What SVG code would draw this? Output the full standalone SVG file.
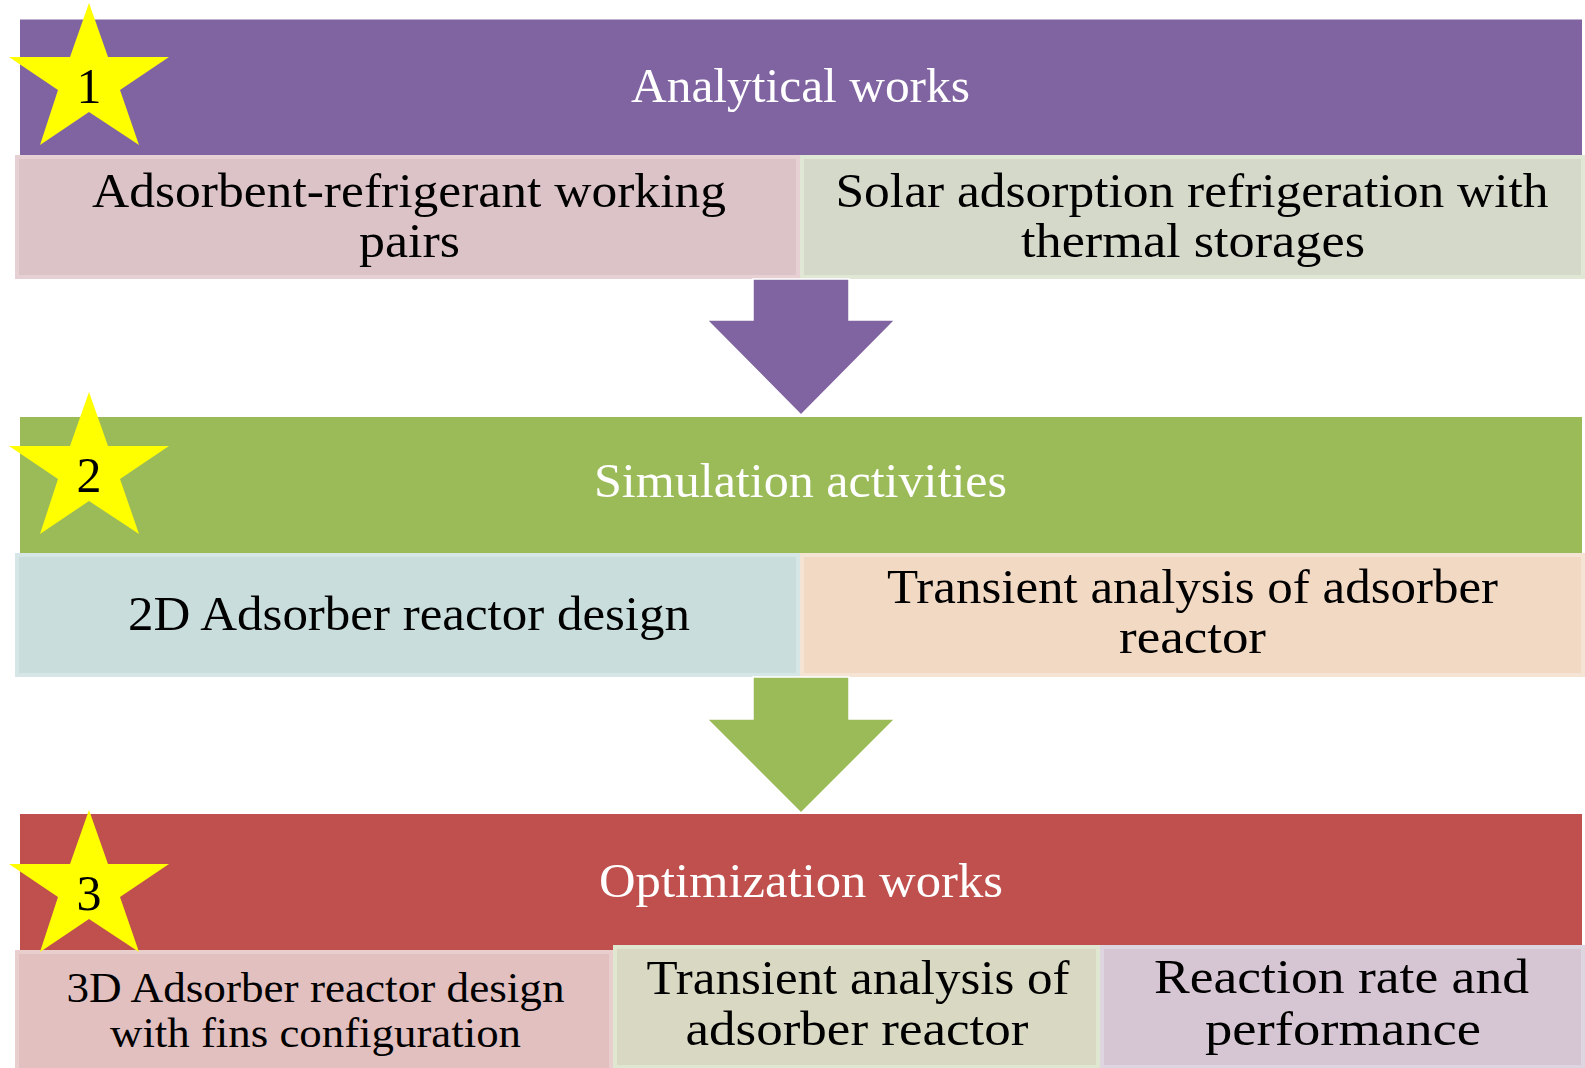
<svg xmlns="http://www.w3.org/2000/svg" xmlns:xlink="http://www.w3.org/1999/xlink" width="1585" height="1068" viewBox="0 0 1585 1068">
<style>
  text { font-family: "Liberation Serif", "DejaVu Serif", serif; }
  .hdr { fill: #FFFFFF; font-size: 48px; text-anchor: middle; }
  .sub { fill: #000000; font-size: 48px; text-anchor: middle; }
  .sub42 { fill: #000000; font-size: 42px; text-anchor: middle; }
  .num { fill: #000000; font-size: 50px; text-anchor: middle; }
  .box { stroke-width: 4; }
  .star { fill: #FFFF00; }
  .arrow { stroke: #FFFFFF; stroke-width: 1.5; stroke-linejoin: miter; }
</style>
<defs>
  <polygon id="starShape" class="star" points="89,3 108,57 169,57 120,90 139,145 89,112 40,145 58,90 9,57 70,57"/>
</defs>
<rect width="1585" height="1068" fill="#FFFFFF"/>

<!-- Row 1 -->
<g id="analytical-works">
  <rect x="20" y="19.5" width="1562" height="135.5" fill="#8064A2"/>
  <text class="hdr" x="800.5" y="102" textLength="339" lengthAdjust="spacingAndGlyphs">Analytical works</text>
</g>
<g id="working-pairs">
  <rect class="box" x="17" y="157" width="781" height="120" fill="#DCC3C8" stroke="#E6D0D3"/>
  <text class="sub" x="409" y="207" textLength="634" lengthAdjust="spacingAndGlyphs">Adsorbent-refrigerant working</text>
  <text class="sub" x="409.5" y="257" textLength="101" lengthAdjust="spacingAndGlyphs">pairs</text>
</g>
<g id="thermal-storages">
  <rect class="box" x="802" y="157" width="781" height="120" fill="#D5D9CA" stroke="#E0E7D5"/>
  <text class="sub" x="1192" y="207" textLength="713" lengthAdjust="spacingAndGlyphs">Solar adsorption refrigeration with</text>
  <text class="sub" x="1193" y="257" textLength="344" lengthAdjust="spacingAndGlyphs">thermal storages</text>
</g>
<g id="star-1">
  <use xlink:href="#starShape" href="#starShape"/>
  <text class="num" x="89" y="103">1</text>
</g>

<!-- Row 2 -->
<g id="simulation-activities">
  <rect x="20" y="417" width="1562" height="136" fill="#9BBB59"/>
  <text class="hdr" x="800.5" y="497" textLength="413" lengthAdjust="spacingAndGlyphs">Simulation activities</text>
</g>
<g id="reactor-design-2d">
  <rect class="box" x="17" y="555" width="781" height="120" fill="#C9DEDC" stroke="#D6E6E6"/>
  <text class="sub" x="409" y="630" textLength="562" lengthAdjust="spacingAndGlyphs">2D Adsorber reactor design</text>
</g>
<g id="transient-analysis-2d">
  <rect class="box" x="802" y="555" width="781" height="120" fill="#F2D9C4" stroke="#F5E3D4"/>
  <text class="sub" x="1192.5" y="603" textLength="611" lengthAdjust="spacingAndGlyphs">Transient analysis of adsorber</text>
  <text class="sub" x="1192.5" y="653" textLength="147" lengthAdjust="spacingAndGlyphs">reactor</text>
</g>
<g id="star-2" transform="translate(0,389)">
  <use xlink:href="#starShape" href="#starShape"/>
  <text class="num" x="89" y="103">2</text>
</g>

<!-- Row 3 -->
<g id="optimization-works">
  <rect x="20" y="814" width="1562" height="136" fill="#C0504D"/>
  <text class="hdr" x="801" y="897" textLength="404" lengthAdjust="spacingAndGlyphs">Optimization works</text>
</g>
<g id="reactor-design-3d">
  <rect class="box" x="17" y="952" width="594" height="120" fill="#E2C0C0" stroke="#E9CECE"/>
  <text class="sub42" x="315.5" y="1002" textLength="498" lengthAdjust="spacingAndGlyphs">3D Adsorber reactor design</text>
  <text class="sub42" x="315.5" y="1047" textLength="411" lengthAdjust="spacingAndGlyphs">with fins configuration</text>
</g>
<g id="transient-analysis-3d">
  <rect class="box" x="615" y="947" width="483" height="120" fill="#D9D9C3" stroke="#E0E7D1"/>
  <text class="sub" x="858" y="994" textLength="423" lengthAdjust="spacingAndGlyphs">Transient analysis of</text>
  <text class="sub" x="857" y="1045" textLength="343" lengthAdjust="spacingAndGlyphs">adsorber reactor</text>
</g>
<g id="reaction-rate">
  <rect class="box" x="1102" y="947" width="481" height="120" fill="#D6C5D2" stroke="#DDD5E0"/>
  <text class="sub" x="1341.5" y="993" textLength="375" lengthAdjust="spacingAndGlyphs">Reaction rate and</text>
  <text class="sub" x="1343" y="1045" textLength="276" lengthAdjust="spacingAndGlyphs">performance</text>
</g>
<g id="star-3" transform="translate(0,807)">
  <use xlink:href="#starShape" href="#starShape"/>
  <text class="num" x="89" y="103">3</text>
</g>

<!-- Connectors -->
<g id="connectors">
  <polygon class="arrow" fill="#8064A2" points="753,279 849,279 849,320 895,320 801,415 707,320 753,320"/>
  <polygon class="arrow" fill="#9BBB59" points="753,677 849,677 849,719 895,719 801,813 707,719 753,719"/>
</g>
</svg>
